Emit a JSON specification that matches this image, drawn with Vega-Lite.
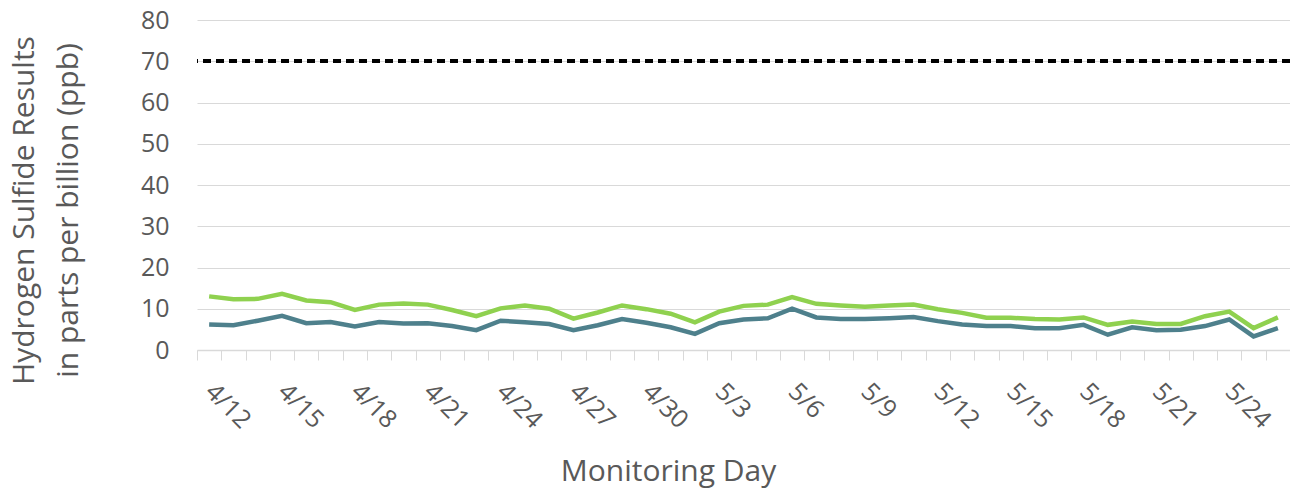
{
  "$schema": "https://vega.github.io/schema/vega-lite/v6.json",
  "width": 1093,
  "height": 330,
  "autosize": {"type": "none"},
  "padding": {"left": 197, "top": 20, "right": 0, "bottom": 147},
  "background": "white",
  "config": {
    "view": {"stroke": null},
    "font": "Open Sans"
  },
  "data": {
    "values": [
      {"day": "4/12", "series": "Monitor 1", "value": 13.0}, {"day": "4/12", "series": "Monitor 2", "value": 6.2},
      {"day": "4/13", "series": "Monitor 1", "value": 12.3}, {"day": "4/13", "series": "Monitor 2", "value": 6.0},
      {"day": "4/14", "series": "Monitor 1", "value": 12.4}, {"day": "4/14", "series": "Monitor 2", "value": 7.1},
      {"day": "4/15", "series": "Monitor 1", "value": 13.6}, {"day": "4/15", "series": "Monitor 2", "value": 8.3},
      {"day": "4/16", "series": "Monitor 1", "value": 12.0}, {"day": "4/16", "series": "Monitor 2", "value": 6.5},
      {"day": "4/17", "series": "Monitor 1", "value": 11.6}, {"day": "4/17", "series": "Monitor 2", "value": 6.8},
      {"day": "4/18", "series": "Monitor 1", "value": 9.7}, {"day": "4/18", "series": "Monitor 2", "value": 5.7},
      {"day": "4/19", "series": "Monitor 1", "value": 11.0}, {"day": "4/19", "series": "Monitor 2", "value": 6.8},
      {"day": "4/20", "series": "Monitor 1", "value": 11.3}, {"day": "4/20", "series": "Monitor 2", "value": 6.4},
      {"day": "4/21", "series": "Monitor 1", "value": 11.0}, {"day": "4/21", "series": "Monitor 2", "value": 6.5},
      {"day": "4/22", "series": "Monitor 1", "value": 9.7}, {"day": "4/22", "series": "Monitor 2", "value": 5.8},
      {"day": "4/23", "series": "Monitor 1", "value": 8.2}, {"day": "4/23", "series": "Monitor 2", "value": 4.8},
      {"day": "4/24", "series": "Monitor 1", "value": 10.1}, {"day": "4/24", "series": "Monitor 2", "value": 7.1},
      {"day": "4/25", "series": "Monitor 1", "value": 10.8}, {"day": "4/25", "series": "Monitor 2", "value": 6.7},
      {"day": "4/26", "series": "Monitor 1", "value": 10.0}, {"day": "4/26", "series": "Monitor 2", "value": 6.3},
      {"day": "4/27", "series": "Monitor 1", "value": 7.6}, {"day": "4/27", "series": "Monitor 2", "value": 4.8},
      {"day": "4/28", "series": "Monitor 1", "value": 9.1}, {"day": "4/28", "series": "Monitor 2", "value": 6.0},
      {"day": "4/29", "series": "Monitor 1", "value": 10.8}, {"day": "4/29", "series": "Monitor 2", "value": 7.5},
      {"day": "4/30", "series": "Monitor 1", "value": 9.9}, {"day": "4/30", "series": "Monitor 2", "value": 6.6},
      {"day": "5/1", "series": "Monitor 1", "value": 8.8}, {"day": "5/1", "series": "Monitor 2", "value": 5.5},
      {"day": "5/2", "series": "Monitor 1", "value": 6.7}, {"day": "5/2", "series": "Monitor 2", "value": 3.9},
      {"day": "5/3", "series": "Monitor 1", "value": 9.3}, {"day": "5/3", "series": "Monitor 2", "value": 6.5},
      {"day": "5/4", "series": "Monitor 1", "value": 10.7}, {"day": "5/4", "series": "Monitor 2", "value": 7.4},
      {"day": "5/5", "series": "Monitor 1", "value": 11.0}, {"day": "5/5", "series": "Monitor 2", "value": 7.7},
      {"day": "5/6", "series": "Monitor 1", "value": 12.8}, {"day": "5/6", "series": "Monitor 2", "value": 10.0},
      {"day": "5/7", "series": "Monitor 1", "value": 11.2}, {"day": "5/7", "series": "Monitor 2", "value": 7.9},
      {"day": "5/8", "series": "Monitor 1", "value": 10.8}, {"day": "5/8", "series": "Monitor 2", "value": 7.5},
      {"day": "5/9", "series": "Monitor 1", "value": 10.5}, {"day": "5/9", "series": "Monitor 2", "value": 7.5},
      {"day": "5/10", "series": "Monitor 1", "value": 10.8}, {"day": "5/10", "series": "Monitor 2", "value": 7.7},
      {"day": "5/11", "series": "Monitor 1", "value": 11.0}, {"day": "5/11", "series": "Monitor 2", "value": 8.0},
      {"day": "5/12", "series": "Monitor 1", "value": 9.9}, {"day": "5/12", "series": "Monitor 2", "value": 7.0},
      {"day": "5/13", "series": "Monitor 1", "value": 9.0}, {"day": "5/13", "series": "Monitor 2", "value": 6.2},
      {"day": "5/14", "series": "Monitor 1", "value": 7.8}, {"day": "5/14", "series": "Monitor 2", "value": 5.8},
      {"day": "5/15", "series": "Monitor 1", "value": 7.8}, {"day": "5/15", "series": "Monitor 2", "value": 5.8},
      {"day": "5/16", "series": "Monitor 1", "value": 7.5}, {"day": "5/16", "series": "Monitor 2", "value": 5.3},
      {"day": "5/17", "series": "Monitor 1", "value": 7.4}, {"day": "5/17", "series": "Monitor 2", "value": 5.3},
      {"day": "5/18", "series": "Monitor 1", "value": 7.9}, {"day": "5/18", "series": "Monitor 2", "value": 6.1},
      {"day": "5/19", "series": "Monitor 1", "value": 6.1}, {"day": "5/19", "series": "Monitor 2", "value": 3.7},
      {"day": "5/20", "series": "Monitor 1", "value": 6.9}, {"day": "5/20", "series": "Monitor 2", "value": 5.5},
      {"day": "5/21", "series": "Monitor 1", "value": 6.3}, {"day": "5/21", "series": "Monitor 2", "value": 4.8},
      {"day": "5/22", "series": "Monitor 1", "value": 6.3}, {"day": "5/22", "series": "Monitor 2", "value": 4.9},
      {"day": "5/23", "series": "Monitor 1", "value": 8.2}, {"day": "5/23", "series": "Monitor 2", "value": 5.8},
      {"day": "5/24", "series": "Monitor 1", "value": 9.3}, {"day": "5/24", "series": "Monitor 2", "value": 7.4},
      {"day": "5/25", "series": "Monitor 1", "value": 5.3}, {"day": "5/25", "series": "Monitor 2", "value": 3.3},
      {"day": "5/26", "series": "Monitor 1", "value": 7.9}, {"day": "5/26", "series": "Monitor 2", "value": 5.3}
    ]
  },
  "layer": [
    {
      "mark": {"type": "line", "strokeWidth": 4.5, "strokeJoin": "miter"},
      "encoding": {
        "x": {
          "field": "day",
          "type": "ordinal",
          "sort": null,
          "bandPosition": 0.5,
          "scale": {"type": "band", "paddingInner": 0, "paddingOuter": 0},
          "axis": {
            "title": "Monitoring Day",
            "titleFont": "Open Sans",
            "titleFontSize": 30,
            "titleFontWeight": "normal",
            "titleColor": "#595959",
            "titleX": 471,
            "titleY": 106,
            "titleBaseline": "top",
            "labelFont": "Open Sans",
            "labelFontSize": 25,
            "labelColor": "#595959",
            "labelAngle": 45,
            "labelAlign": "left",
            "labelBaseline": "middle",
            "labelPadding": 27,
            "labelOverlap": false,
            "labelExpr": "indexof(['4/12','4/15','4/18','4/21','4/24','4/27','4/30','5/3','5/6','5/9','5/12','5/15','5/18','5/21','5/24'], datum.value) >= 0 ? datum.value : ''",
            "tickBand": "extent",
            "tickColor": "#d9d9d9",
            "tickSize": 10,
            "domainColor": "#d9d9d9",
            "domainWidth": 1.5,
            "grid": false
          }
        },
        "y": {
          "field": "value",
          "type": "quantitative",
          "scale": {"domain": [0, 80], "nice": false},
          "axis": {
            "values": [0, 10, 20, 30, 40, 50, 60, 70, 80],
            "title": ["Hydrogen Sulfide Results", "in parts per billion (ppb)"],
            "titleFont": "Open Sans",
            "titleFontSize": 30,
            "titleFontWeight": "normal",
            "titleColor": "#595959",
            "titleLineHeight": 44,
            "titlePadding": 57,
            "titleY": 190,
            "labelFont": "Open Sans",
            "labelFontSize": 25,
            "labelColor": "#595959",
            "labelPadding": 28,
            "ticks": false,
            "domain": false,
            "grid": true,
            "gridColor": "#d9d9d9",
            "gridWidth": 1.2
          }
        },
        "color": {
          "field": "series",
          "type": "nominal",
          "scale": {"domain": ["Monitor 1", "Monitor 2"], "range": ["#8fd14f", "#4e808c"]},
          "legend": null
        }
      }
    },
    {
      "mark": {"type": "rule", "color": "black", "strokeWidth": 3, "strokeDash": [8, 5]},
      "encoding": {"y": {"datum": 70}}
    }
  ]
}
